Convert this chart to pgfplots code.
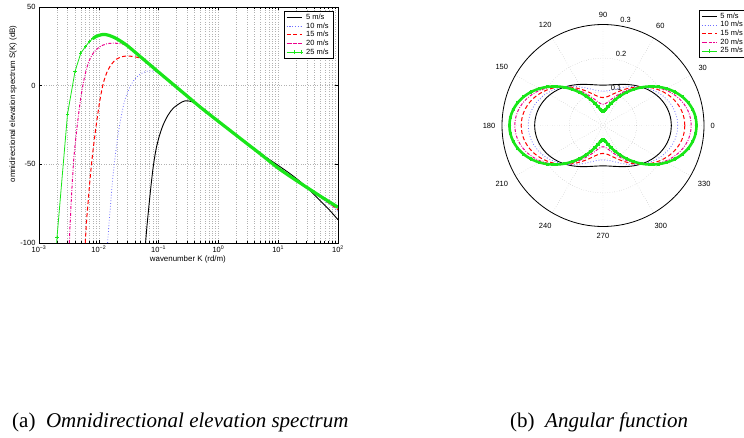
\documentclass[border=0pt]{standalone}
\usepackage{fontspec}
\setmainfont{Liberation Serif}
\newfontfamily\hv{Liberation Sans}
\usepackage{pgfplots}
\pgfplotsset{compat=1.18}
\usepgfplotslibrary{polar}
\usepackage{pgfplotstable}
\newcommand{\axf}{\hv\fontsize{7.5}{8.5}\selectfont}
\definecolor{mgreen}{RGB}{25,230,25}
\definecolor{mblue}{RGB}{110,110,255}

% angular function: angle (deg) and value for each wind speed
\pgfplotstableread{
t k5 k10 k15 k20 k25
0 0.2030 0.2220 0.2430 0.2620 0.2780
5 0.2024 0.2211 0.2418 0.2605 0.2762
10 0.2005 0.2184 0.2382 0.2560 0.2709
15 0.1974 0.2140 0.2323 0.2487 0.2622
20 0.1933 0.2080 0.2243 0.2387 0.2504
25 0.1882 0.2006 0.2144 0.2265 0.2359
30 0.1823 0.1920 0.2030 0.2123 0.2190
35 0.1757 0.1825 0.1904 0.1965 0.2004
40 0.1687 0.1724 0.1769 0.1798 0.1805
45 0.1615 0.1620 0.1630 0.1625 0.1600
50 0.1543 0.1516 0.1491 0.1452 0.1395
55 0.1473 0.1415 0.1356 0.1285 0.1196
60 0.1407 0.1320 0.1230 0.1127 0.1010
65 0.1348 0.1234 0.1116 0.0985 0.0841
70 0.1297 0.1160 0.1017 0.0863 0.0696
75 0.1256 0.1100 0.0937 0.0763 0.0578
80 0.1225 0.1056 0.0878 0.0690 0.0491
85 0.1206 0.1029 0.0842 0.0645 0.0438
90 0.1200 0.1020 0.0830 0.0630 0.0420
95 0.1206 0.1029 0.0842 0.0645 0.0438
100 0.1225 0.1056 0.0878 0.0690 0.0491
105 0.1256 0.1100 0.0937 0.0763 0.0578
110 0.1297 0.1160 0.1017 0.0863 0.0696
115 0.1348 0.1234 0.1116 0.0985 0.0841
120 0.1407 0.1320 0.1230 0.1127 0.1010
125 0.1473 0.1415 0.1356 0.1285 0.1196
130 0.1543 0.1516 0.1491 0.1452 0.1395
135 0.1615 0.1620 0.1630 0.1625 0.1600
140 0.1687 0.1724 0.1769 0.1798 0.1805
145 0.1757 0.1825 0.1904 0.1965 0.2004
150 0.1823 0.1920 0.2030 0.2123 0.2190
155 0.1882 0.2006 0.2144 0.2265 0.2359
160 0.1933 0.2080 0.2243 0.2387 0.2504
165 0.1974 0.2140 0.2323 0.2487 0.2622
170 0.2005 0.2184 0.2382 0.2560 0.2709
175 0.2024 0.2211 0.2418 0.2605 0.2762
180 0.2030 0.2220 0.2430 0.2620 0.2780
185 0.2024 0.2211 0.2418 0.2605 0.2762
190 0.2005 0.2184 0.2382 0.2560 0.2709
195 0.1974 0.2140 0.2323 0.2487 0.2622
200 0.1933 0.2080 0.2243 0.2387 0.2504
205 0.1882 0.2006 0.2144 0.2265 0.2359
210 0.1823 0.1920 0.2030 0.2123 0.2190
215 0.1757 0.1825 0.1904 0.1965 0.2004
220 0.1687 0.1724 0.1769 0.1798 0.1805
225 0.1615 0.1620 0.1630 0.1625 0.1600
230 0.1543 0.1516 0.1491 0.1452 0.1395
235 0.1473 0.1415 0.1356 0.1285 0.1196
240 0.1407 0.1320 0.1230 0.1127 0.1010
245 0.1348 0.1234 0.1116 0.0985 0.0841
250 0.1297 0.1160 0.1017 0.0863 0.0696
255 0.1256 0.1100 0.0937 0.0763 0.0578
260 0.1225 0.1056 0.0878 0.0690 0.0491
265 0.1206 0.1029 0.0842 0.0645 0.0438
270 0.1200 0.1020 0.0830 0.0630 0.0420
275 0.1206 0.1029 0.0842 0.0645 0.0438
280 0.1225 0.1056 0.0878 0.0690 0.0491
285 0.1256 0.1100 0.0937 0.0763 0.0578
290 0.1297 0.1160 0.1017 0.0863 0.0696
295 0.1348 0.1234 0.1116 0.0985 0.0841
300 0.1407 0.1320 0.1230 0.1127 0.1010
305 0.1473 0.1415 0.1356 0.1285 0.1196
310 0.1543 0.1516 0.1491 0.1452 0.1395
315 0.1615 0.1620 0.1630 0.1625 0.1600
320 0.1687 0.1724 0.1769 0.1798 0.1805
325 0.1757 0.1825 0.1904 0.1965 0.2004
330 0.1823 0.1920 0.2030 0.2123 0.2190
335 0.1882 0.2006 0.2144 0.2265 0.2359
340 0.1933 0.2080 0.2243 0.2387 0.2504
345 0.1974 0.2140 0.2323 0.2487 0.2622
350 0.2005 0.2184 0.2382 0.2560 0.2709
355 0.2024 0.2211 0.2418 0.2605 0.2762
360 0.2030 0.2220 0.2430 0.2620 0.2780
}\angtab

\pgfplotsset{
  mylegend/.style={
    legend cell align=left,
    legend style={draw=black, line width=0.9pt, fill=white, font=\axf,
      inner xsep=2pt, inner ysep=1pt, row sep=-1.5pt,
      nodes={inner xsep=3pt, inner ysep=1.6pt}},
    legend image code/.code={
      \draw[mark repeat=2,mark phase=2,##1] plot coordinates {(0pt,0pt) (7.5pt,0pt) (15pt,0pt)};},
  },
  k5/.style={black, line width=0.9pt},
  k10/.style={mblue, line width=0.8pt, dotted},
  k15/.style={red, line width=1pt, dash pattern=on 4pt off 2.5pt},
  k20/.style={magenta, line width=1pt, dash pattern=on 3pt off 1.5pt on 0.8pt off 1.5pt},
}

\begin{document}
\begin{tikzpicture}
\useasboundingbox (0,0) rectangle (744pt,437pt);

\begin{axis}[
  at={(39pt,194pt)}, anchor=south west,
  scale only axis, width=299pt, height=236pt,
  xmode=log, log basis x=10,
  xmin=1e-3, xmax=1e2, ymin=-100, ymax=50,
  xtick={1e-3,1e-2,1e-1,1,10,100},
  minor xtick={2e-3,3e-3,4e-3,5e-3,6e-3,7e-3,8e-3,9e-3,
    2e-2,3e-2,4e-2,5e-2,6e-2,7e-2,8e-2,9e-2,
    0.2,0.3,0.4,0.5,0.6,0.7,0.8,0.9,2,3,4,5,6,7,8,9,
    20,30,40,50,60,70,80,90},
  xticklabels={10\textsuperscript{−3},10\textsuperscript{−2},10\textsuperscript{−1},10\textsuperscript{0},10\textsuperscript{1},10\textsuperscript{2}},
  ytick={-100,-50,0,50},
  yticklabels={-100,-50,0,50},
  minor y tick num=0,
  grid=both,
  major grid style={dotted, gray!60, line width=0.45pt},
  minor grid style={dotted, gray!60, line width=0.45pt},
  axis line style={line width=0.8pt},
  tick style={black, line width=0.5pt},
  major tick length=3pt, minor tick length=1.8pt,
  tick label style={font=\axf},
  xticklabel style={yshift=1pt},
  xlabel={wavenumber K (rd/m)},
  ylabel={omnidirectional elevation spectrum S(K) (dB)},
  label style={font=\hv\fontsize{7.9}{9}\selectfont},
  xlabel style={at={(axis description cs:0.498,-0.068)}, anchor=center},
  ylabel style={at={(axis description cs:-0.087,0.589)}, anchor=center},
  mylegend,
  legend style={at={(0.987,0.983)}, anchor=north east},
]
\addplot[k5, smooth] coordinates {
 (0.0605,-100) (0.0637,-89.8) (0.0687,-77) (0.0743,-64.3) (0.0813,-51.6)
 (0.090,-41) (0.102,-32.5) (0.119,-25) (0.1446,-18.6) (0.175,-14.4)
 (0.2265,-11.2) (0.2746,-9.7) (0.355,-10.1) (0.489,-12.9) (0.674,-17.2)
 (1,-22.5) (1.76,-29.6) (3.34,-37.9) (6.35,-45.6) (10,-50.7) (15.6,-55.8)
 (22.9,-60.7) (33.7,-66.5) (49.5,-72.8) (72.6,-79.2) (100,-85.2)
};
\addlegendentry{5 m/s}
\addplot[k10, smooth] coordinates {
 (0.01403,-100) (0.01496,-85.6) (0.01595,-72.8) (0.01722,-58) (0.01862,-46.3)
 (0.02037,-34.6) (0.02256,-24) (0.02564,-13.3) (0.02912,-5.9) (0.0353,1.1)
 (0.0428,5.4) (0.0553,8.4) (0.0715,9.4) (0.0923,8.8) (0.11,7.3) (0.2,-1.0)
 (0.3,-6.6) (0.5,-13.7) (1,-22.7) (2,-31.6) (3,-36.8) (5,-43.3) (10,-52.4)
 (20,-60.6) (50,-71.0) (100,-79.8)
};
\addlegendentry{10 m/s}
\addplot[k15, smooth] coordinates {
 (0.00594,-100) (0.00625,-85.6) (0.00667,-72.8) (0.00711,-60.1) (0.00768,-47.3)
 (0.0084,-34.6) (0.00931,-21.8) (0.01045,-9.1) (0.01188,1.5) (0.01385,9.0)
 (0.01636,13.7) (0.01983,16.9) (0.02564,18.6) (0.0331,18.8) (0.0428,18.1)
 (0.05,17.6) (0.07,13.5) (0.1,8.6) (0.2,-1.0) (0.3,-6.6) (0.5,-13.7) (1,-22.7)
 (2,-31.4) (3,-36.5) (5,-43.0) (10,-52.2) (20,-60.4) (50,-70.6) (100,-78.8)
};
\addlegendentry{15 m/s}
\addplot[k20, smooth] coordinates {
 (0.003213,-100) (0.003337,-85.6) (0.003467,-72.8) (0.003648,-58) (0.003843,-45.2)
 (0.00415,-32.5) (0.00454,-19.7) (0.005032,-7) (0.005718,4.7) (0.006668,14.3)
 (0.00809,20.7) (0.01019,24.5) (0.0135,26.6) (0.01744,27.0) (0.022,26.8)
 (0.027,26.2) (0.03,25.3) (0.05,18.3) (0.07,13.6) (0.1,8.6) (0.2,-1.0)
 (0.3,-6.6) (0.5,-13.7) (1,-22.7) (2,-31.6) (3,-36.8) (5,-43.3) (10,-52.4)
 (20,-60.4) (50,-70.4) (100,-78.0)
};
\addlegendentry{20 m/s}
\addplot[mgreen, line width=0.8pt, mark=+, mark size=1.6pt,
  mark indices={2,3,4,5,6,7,8,9,10}] coordinates {
 (0.001975,-100) (0.002,-96.5) (0.003,-18.0) (0.004,9.0) (0.005,20.7)
 (0.006,24.9) (0.007,28.1) (0.008,30.0) (0.009,31.3) (0.010,31.9)
};
\addlegendentry{25 m/s}
\addplot[mgreen, line width=3.2pt, smooth, forget plot] coordinates {
 (0.008,30.0) (0.009,31.3) (0.010,31.9) (0.012,32.6) (0.015,31.9) (0.02,29.8)
 (0.03,25.4) (0.05,18.3) (0.07,13.6) (0.1,8.6) (0.2,-1.0) (0.3,-6.6)
 (0.5,-13.7) (1,-22.7) (2,-31.6) (3,-36.8) (5,-43.3) (10,-52.4) (20,-60.2)
 (50,-70.1) (100,-77.3)
};
\end{axis}

\begin{polaraxis}[
  at={(603pt,311.5pt)}, anchor=center,
  scale only axis, width=202pt, height=202pt,
  xmin=0, xmax=360, ymin=0, ymax=0.3,
  xtick={0,30,...,330},
  xticklabels={0,30,60,90,120,150,180,210,240,270,300,330},
  ytick={0.1,0.2,0.3}, yticklabels={},
  grid=major,
  major grid style={dotted, gray!60, line width=0.45pt},
  axis line style={line width=0.8pt},
  y axis line style={draw=none},
  tick style={draw=none},
  tick label style={font=\axf},
  xticklabel style={inner sep=6.5pt},
  clip=false,
  mylegend,
  legend style={at={(0.975,1.0725)}, anchor=north west},
]
\addplot[k5, smooth] table[x=t, y=k5] {\angtab};
\addlegendentry{5 m/s}
\addplot[k10, smooth] table[x=t, y=k10] {\angtab};
\addlegendentry{10 m/s}
\addplot[k15, smooth] table[x=t, y=k15] {\angtab};
\addlegendentry{15 m/s}
\addplot[k20, smooth] table[x=t, y=k20] {\angtab};
\addlegendentry{20 m/s}
\addplot[mgreen, line width=2.6pt, smooth, mark=+, mark size=1.6pt,
  legend image post style={line width=0.8pt}] table[x=t, y=k25] {\angtab};
\addlegendentry{25 m/s}
\node[font=\axf] at (axis cs:70.7,0.118) {0.1};
\node[font=\axf] at (axis cs:75.8,0.220) {0.2};
\node[font=\axf] at (axis cs:78,0.322) {0.3};
\end{polaraxis}

\node[anchor=base west, inner sep=0pt, font=\fontsize{21}{24}\selectfont]
  at (12pt,10pt) {(a)\hspace{0.5em}\textit{Omnidirectional elevation spectrum}};
\node[anchor=base west, inner sep=0pt, font=\fontsize{21}{24}\selectfont]
  at (510pt,10pt) {(b)\hspace{0.5em}\textit{Angular function}};
\end{tikzpicture}
\end{document}
